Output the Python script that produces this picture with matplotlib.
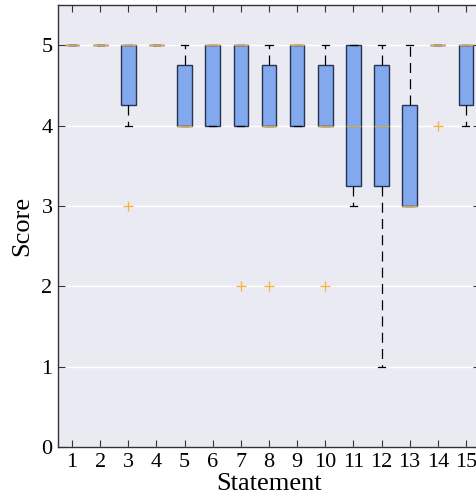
import matplotlib
matplotlib.use("Agg")
import matplotlib.pyplot as plt

# Box statistics per statement
statements = list(range(1, 16))
q1 = [5, 5, 4.25, 5, 4, 4, 4, 4, 4, 4, 3.25, 3.25, 3, 5, 4.25]
median = [5, 5, 5, 5, 4, 5, 5, 4, 5, 4, 4, 4, 3, 5, 5]
q3 = [5, 5, 5, 5, 4.75, 5, 5, 4.75, 5, 4.75, 5, 4.75, 4.25, 5, 5]
whis_lo = [5, 5, 4, 5, 4, 4, 4, 4, 4, 4, 3, 1, 3, 5, 4]
whis_hi = [5, 5, 5, 5, 5, 5, 5, 5, 5, 5, 5, 5, 5, 5, 5]
outliers = [[], [], [3], [], [], [], [2], [2], [], [2], [], [], [], [4], []]

stats = []
for i in range(len(statements)):
    stats.append(dict(q1=q1[i], med=median[i], q3=q3[i],
                      whislo=whis_lo[i], whishi=whis_hi[i],
                      fliers=outliers[i], label=str(statements[i])))

plt.rcParams['font.family'] = ['Liberation Serif', 'DejaVu Serif']

fig = plt.figure(figsize=(4.77, 5.03), dpi=100)
ax = fig.add_axes([58 / 477, 56 / 503, 422 / 477, 442 / 503])
ax.set_facecolor('#EAEAF2')

ax.bxp(stats, positions=statements, widths=0.52, patch_artist=True,
       boxprops=dict(facecolor='#82A9EE', edgecolor='#26344F', linewidth=1.0),
       medianprops=dict(color='#D9A84A', linewidth=1.0),
       whiskerprops=dict(color='black', linestyle=(0, (8, 5)), linewidth=0.9),
       capprops=dict(color='black', linewidth=0.9),
       capwidths=0.25,
       flierprops=dict(marker='+', markeredgecolor='#F5B532', markersize=7,
                       markeredgewidth=0.9, linestyle='none'))

ax.set_xlim(0.5, 15.5)
ax.set_ylim(0, 5.5)
ax.set_xticks(statements)
ax.set_xticklabels([str(s) for s in statements])
ax.set_yticks([0, 1, 2, 3, 4, 5])
ax.yaxis.grid(True, color='white', linewidth=1.0)
ax.set_axisbelow(True)
ax.tick_params(direction='in', length=5, width=0.8, color='#333333',
               labelsize=16, top=True, right=True, pad=4)
for sp in ax.spines.values():
    sp.set_color('#333333')
    sp.set_linewidth(1.0)

ax.set_xlabel('Statement', fontsize=19, labelpad=1)
ax.set_ylabel('Score', fontsize=19, labelpad=6)

fig.savefig('out.png', dpi=100)
